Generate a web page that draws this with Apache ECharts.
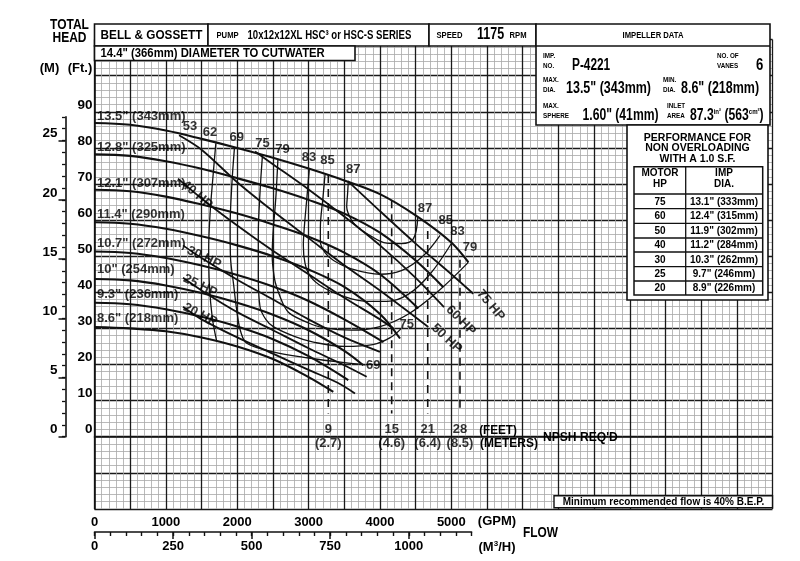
<!DOCTYPE html>
<html><head><meta charset="utf-8">
<script src="https://cdn.jsdelivr.net/npm/echarts@6/dist/echarts.min.js"></script>
<style>html,body{margin:0;padding:0;background:#fff}#c{width:800px;height:561px}</style>
</head><body><div id="c"></div><script>
// ---------- DATA (flow in GPM, head in feet) ----------
const gpmLabels = [0,1000,2000,3000,4000,5000];
const m3hLabels = [0,250,500,750,1000];
const ftLabels = [0,10,20,30,40,50,60,70,80,90];
const mLabels = [0,5,10,15,20,25];

const diaNames = ['13.5" (343mm)','12.8" (325mm)','12.1" (307mm)','11.4" (290mm)','10.7" (272mm)','10" (254mm)','9.3" (236mm)','8.6" (218mm)'];
const head135 = [[0,86.9],[500,86.4],[1000,84.8],[1500,82.5],[2000,80],[2500,77.3],[3000,74.3],[3500,71],[4000,67.2],[4500,61.3],[5000,53.8],[5238,48.3]];
const head128 = [[0,78.2],[500,77.8],[1000,76.3],[1500,74.2],[2000,71.6],[2500,68.8],[3000,65.6],[3500,61.8],[4000,56.5],[4500,48.8],[4888,41.4]];
const head121 = [[0,68.4],[500,68],[1000,66.5],[1500,64.3],[2000,61.8],[2500,58.8],[3000,55.4],[3500,51],[4000,45],[4537,35.5]];
const head114 = [[0,59.4],[500,59],[1000,57.6],[1500,55.5],[2000,53],[2500,50],[3000,46.3],[3500,41.5],[4000,34],[4281,27.2]];
const head107 = [[0,51.3],[500,50.9],[1000,49.5],[1500,47.4],[2000,44.8],[2500,41.6],[3000,37.6],[3500,32.5],[4050,26.2]];
const head100 = [[0,43.7],[500,43.3],[1000,41.9],[1500,39.8],[2000,37.1],[2500,33.8],[3000,29.5],[3500,23.8],[3766,19.8]];
const head093 = [[0,37.1],[500,36.7],[1000,35.3],[1500,33.2],[2000,30.5],[2500,27],[3000,22.3],[3556,15.7]];
const head086 = [[0,30.4],[500,30],[1000,29.2],[1500,27.5],[2000,25],[2500,21.5],[3000,16.5],[3346,12.4]];

const hp75 = [[3550,70.8],[4000,62.5],[4500,53.5],[5000,45],[5308,39.6]];
const hp60 = [[2250,79],[2500,75.5],[3000,68.5],[3500,61],[4000,53],[4500,44],[4897,35.9]];
const hp50 = [[1185,83.5],[1500,79.5],[2000,70.5],[2500,62.5],[3000,55],[3500,47.5],[4000,40.5],[4677,30.4]];
const hp40 = [[1170,71.5],[1500,66],[2000,58.5],[2500,51.5],[3000,45],[3500,38.5],[4000,32.5],[4200,29.8]];
const hp30 = [[1240,53],[1500,49.5],[2000,43.5],[2500,38],[3000,32.5],[3500,27.5],[3999,23.5]];
const hp25 = [[1240,44],[1500,40.5],[2000,34.5],[2500,29.5],[3000,24.5],[3500,19.8],[3814,16.6]];
const hp20 = [[1240,36],[1500,32.5],[2000,27.5],[2500,23],[3000,18.5],[3400,15],[3650,12]];

const eff62 = [[1700,81.3],[1660,72],[1620,62],[1600,52],[1610,42],[1650,33],[1712,26.5]];
const eff69 = [[1960,79.8],[1925,70],[1900,58],[1905,50],[1950,42],[2000,34],[2050,29],[2133,25.9],[2500,23.5],[3000,21.8],[3500,20.5],[3800,19.9]];
const eff75 = [[2354,78.1],[2320,68],[2295,56],[2295,45],[2319,36],[2400,32.5],[2505,30.5],[2800,27.8],[3066,26.2],[3500,25],[3900,25.5],[4150,27.5],[4300,30]];
const eff79 = [[2570,76.8],[2540,66],[2500,56],[2490,50],[2520,44],[2553,41.4],[2650,36.5],[2739,34.1],[3000,31.5],[3206,30.2],[3600,29.5],[4000,30.5],[4400,34],[4800,40],[5238,48.3]];
const eff83 = [[3010,74.2],[2975,66],[2940,58],[2926,53],[2950,48],[3020,44.5],[3202,41.4],[3500,38.8],[3800,37.5],[4100,37.5],[4400,39.5],[4700,45],[5009,53.8]];
const eff85 = [[3230,72.6],[3200,66],[3165,58],[3165,54],[3230,51],[3350,48.8],[3600,46.5],[4000,45],[4300,46],[4600,50],[4842,55.8]];
const eff87 = [[3556,70.6],[3545,67],[3534,63.7],[3600,60],[3700,57.8],[3814,56.3],[4094,53.6],[4300,53.5],[4467,54.8],[4530,60.8]];

const npshGpm = [3276,4164,4669,5121];
const npshTopFt = [72.5,65.5,57,49];
const npshBottomFt = 6.4;
const npshFeet = [9,15,21,28];
const npshMeters = [2.7,4.6,6.4,8.5];

const effLabelPts = [[1338,86.0,'53'],[1618,84.3,'62'],[1992,82.9,'69'],[2354,81.3,'75'],[2634,79.7,'79'],[3005,77.3,'83'],[3265,76.4,'85'],[3627,74.1,'87'],[4631,63.1,'87'],[4922,59.8,'85'],[5086,56.9,'83'],[5261,52.4,'79'],[4374,31.1,'75'],[3907,19.8,'69']];
const hpLabelPts = [[1436,67,'40 HP'],[1535,49.6,'30 HP'],[1481,41.8,'25 HP'],[1481,33.8,'20 HP'],[5553,36.4,'75 HP'],[5133,32.2,'60 HP'],[4935,27.2,'50 HP']];
const diaLabelPts = [[35,88.6],[35,80],[35,70.2],[35,61.5],[35,53.6],[35,46.3],[35,39.4],[35,32.8]];

const perfHp = [75,60,50,40,30,25,20];
const perfDia = ['13.1" (333mm)','12.4" (315mm)','11.9" (302mm)','11.2" (284mm)','10.3" (262mm)','9.7" (246mm)','8.9" (226mm)'];

// ---------- STYLE ----------
const FN = '"Liberation Sans",Arial,Helvetica,sans-serif';
const hpAngles = [-41,-26,-26,-27,-50,-45,-43];
const INK = '#111';

const chart = echarts.init(document.getElementById('c'), null, {renderer:'canvas'});

const series = [];
[head135,head128,head121,head114,head107,head100,head093,head086].forEach(d=>series.push({type:'line',data:d,smooth:0.35,symbol:'none',silent:true,z:4,lineStyle:{color:INK,width:2.1}}));
[hp75,hp60,hp50,hp40,hp30,hp25,hp20].forEach(d=>series.push({type:'line',data:d,smooth:0.3,symbol:'none',silent:true,z:3,lineStyle:{color:INK,width:1.8}}));
[eff62,eff69,eff75,eff79,eff83,eff85,eff87].forEach(d=>series.push({type:'line',data:d,smooth:0.35,symbol:'none',silent:true,z:3,lineStyle:{color:INK,width:1.3}}));
npshGpm.forEach((g,i)=>series.push({type:'line',data:[[g,npshTopFt[i]],[g,npshBottomFt]],symbol:'none',silent:true,z:3,lineStyle:{color:INK,width:1.6,type:[8,6]}}));

const lab = (size,extra)=>Object.assign({show:true,position:'inside',color:'#000',fontSize:size,fontWeight:'bold',fontFamily:FN},extra||{});
series.push({type:'scatter',symbolSize:0,silent:true,z:6,data:effLabelPts.map(p=>({value:[p[0],p[1]],name:p[2]})),label:lab(13,{formatter:p=>p.name})});
series.push({type:'scatter',symbolSize:0,silent:true,z:6,data:hpLabelPts.map((p,i)=>({value:[p[0],p[1]],name:p[2],label:{rotate:hpAngles[i]}})),label:lab(13,{formatter:p=>p.name})});
series.push({type:'scatter',symbolSize:0,silent:true,z:6,data:diaLabelPts.map((p,i)=>({value:p,name:diaNames[i]})),label:lab(13,{formatter:p=>p.name,align:'left'})});
series.push({type:'scatter',symbolSize:0,silent:true,z:6,data:npshGpm.map((g,i)=>({value:[g,1.9],name:String(npshFeet[i])})),label:lab(13,{formatter:p=>p.name})});
series.push({type:'scatter',symbolSize:0,silent:true,z:6,data:npshGpm.map((g,i)=>({value:[g,-1.9],name:'('+npshMeters[i].toFixed(1)+')'})),label:lab(13,{formatter:p=>p.name})});

// ---------- GRAPHIC (boxes / text) ----------
const G = [];
function rect(x,y,w,h,lw){G.push({type:'rect',z:100,shape:{x:x,y:y,width:w,height:h},style:{fill:'#fff',stroke:INK,lineWidth:lw||1.6}});}
function line(x1,y1,x2,y2,lw){G.push({type:'line',z:101,shape:{x1:x1,y1:y1,x2:x2,y2:y2},style:{stroke:INK,lineWidth:lw||1.3}});}
function txt(x,y,t,size,align,sx,rich){G.push({type:'text',z:102,x:x,y:y,scaleX:sx||1,scaleY:1,style:{text:t,font:'bold '+size+'px '+FN,fill:'#000',align:align||'left',textAlign:align||'left',verticalAlign:'middle',textVerticalAlign:'middle',rich:rich}});}
const small = {s:{fontSize:8,fontWeight:'bold',fontFamily:FN,verticalAlign:'top',padding:[0,0,6,0]}};

txt(69.5,24.5,'TOTAL',15,'center',0.8);
txt(69.5,37.5,'HEAD',15,'center',0.8);
txt(49.5,68,'(M)',13,'center');
txt(80,68,'(Ft.)',13,'center');

rect(94.5,24,113.5,22); rect(208,24,221,22); rect(429,24,107,22);
rect(536,24,234,101); line(536,46,770,46,1.6);
rect(94.5,46,260.5,14.5);
txt(151.5,35.5,'BELL & GOSSETT',13.5,'center',0.87);
txt(216.5,36,'PUMP',9,'left',0.85);
txt(247.5,35.5,'10x12x12XL HSC³ or HSC-S SERIES',12,'left',0.8);
txt(436.5,36,'SPEED',9,'left',0.85);
txt(477,35,'1175',16,'left',0.78);
txt(509.5,36,'RPM',9,'left',0.85);
txt(653,35.5,'IMPELLER DATA',9,'center',0.85);
txt(100.5,53.5,'14.4" (366mm) DIAMETER TO CUTWATER',13,'left',0.87);

txt(543,56,'IMP.',7,'left',0.9); txt(543,66.5,'NO.',7,'left',0.9);
txt(572,66,'P-4221',16,'left',0.74);
txt(717,56,'NO. OF',7,'left',0.9); txt(717,66.5,'VANES',7,'left',0.9);
txt(756,66,'6',16,'left',0.82);
txt(543,80.5,'MAX.',7,'left',0.9); txt(543,90,'DIA.',7,'left',0.9);
txt(566,89,'13.5" (343mm)',16,'left',0.78);
txt(663,80.5,'MIN.',7,'left',0.9); txt(663,90,'DIA.',7,'left',0.9);
txt(681,89,'8.6" (218mm)',16,'left',0.78);
txt(543,106,'MAX.',7,'left',0.9); txt(543,116.5,'SPHERE',7,'left',0.9);
txt(582.5,115.5,'1.60" (41mm)',16,'left',0.76);
txt(667,106,'INLET',7,'left',0.9); txt(667,116.5,'AREA',7,'left',0.9);
txt(690,115.5,'87.3{s|in²} (563{s|cm²})',16,'left',0.76,small);

rect(627,125,141,175);
txt(697.5,138,'PERFORMANCE FOR',10.5,'center');
txt(697.5,148.5,'NON OVERLOADING',10.5,'center');
txt(697.5,159,'WITH A 1.0 S.F.',10.5,'center');
rect(634,166.7,128.7,128.3,1.5);
line(685.7,166.7,685.7,295,1.3);
const rowY=[194,208.7,223.3,238,252,266.7,281,295];
rowY.slice(0,7).forEach(y=>line(634,y,762.7,y,1.3));
txt(660,173.5,'MOTOR',10,'center'); txt(660,184,'HP',10,'center');
txt(724,173.5,'IMP',10,'center'); txt(724,184,'DIA.',10,'center');
perfHp.forEach((h,i)=>{const cy=(rowY[i]+rowY[i+1])/2; txt(660,cy+0.5,String(h),10,'center'); txt(724,cy+0.5,perfDia[i],10,'center');});

rect(554,495.7,218.5,12,1.4);
txt(663.5,502,'Minimum recommended flow is 40% B.E.P.',10.5,'center',0.95);

txt(498,430,'(FEET)',13,'center',0.9);
txt(509,443.5,'(METERS)',13,'center',0.92);
txt(543,437,"NPSH REQ'D",13,'left',0.93);

txt(497,521.5,'(GPM)',13,'center');
txt(540.5,533,'FLOW',14,'center',0.85);
txt(497,547,'(M{s|3}/H)',13,'center',1,small);

// ---------- AXES ----------
const bold = {color:'#000',fontWeight:'bold',fontSize:13,fontFamily:FN};
const option = {
  animation:false,
  backgroundColor:'#fff',
  grid:[
    {left:94.5,top:39.6,width:678,height:469.3},
    {left:65.5,top:116.9,width:1,height:319.8},
    {left:65.5,top:140.6,width:1,height:296.1},
    {left:94.5,top:531,width:377.1,height:1},
    {left:94.5,top:531,width:314.2,height:1}
  ],
  xAxis:[
    {type:'value',gridIndex:0,min:0,max:9500,interval:500,
      axisLine:{show:true,lineStyle:{color:INK,width:1.6}},axisTick:{show:false},
      axisLabel:Object.assign({interval:0,margin:7,formatter:v=>gpmLabels.indexOf(v)>=0?String(v):''},bold),
      splitLine:{show:true,lineStyle:{color:'#1a1a1a',width:1.3}},
      minorTick:{show:false,splitNumber:5},minorSplitLine:{show:true,lineStyle:{color:'#a8a8a8',width:0.8}}},
    {type:'value',gridIndex:1,show:false,min:0,max:1},
    {type:'value',gridIndex:2,show:false,min:0,max:1},
    {type:'value',gridIndex:3,min:0,max:1200,interval:50,
      axisLine:{show:true,lineStyle:{color:INK,width:1.5}},axisTick:{show:true,length:4,lineStyle:{color:INK,width:1.4}},
      axisLabel:{show:false},splitLine:{show:false}},
    {type:'value',gridIndex:4,min:0,max:1000,interval:250,
      axisLine:{show:false},axisTick:{show:true,length:7,lineStyle:{color:INK,width:1.5}},
      axisLabel:Object.assign({margin:8,formatter:v=>m3hLabels.indexOf(v)>=0?String(v):''},bold),splitLine:{show:false}}
  ],
  yAxis:[
    {type:'value',gridIndex:0,min:-20,max:110,interval:10,
      axisLine:{show:true,lineStyle:{color:INK,width:1.6}},axisTick:{show:false},
      axisLabel:Object.assign({margin:2,verticalAlign:'bottom',formatter:v=>ftLabels.indexOf(v)>=0?String(v):''},bold,{fontSize:13.5}),
      splitLine:{show:true,lineStyle:{color:'#1a1a1a',width:1.3}},
      minorTick:{show:false,splitNumber:5},minorSplitLine:{show:true,lineStyle:{color:'#a8a8a8',width:0.8}}},
    {type:'value',gridIndex:1,min:0,max:27,interval:1,
      axisLine:{show:true,lineStyle:{color:INK,width:1.6}},axisTick:{show:true,length:3.5,lineStyle:{color:INK,width:1.3}},
      axisLabel:{show:false},splitLine:{show:false}},
    {type:'value',gridIndex:2,min:0,max:25,interval:5,
      axisLine:{show:false},axisTick:{show:true,length:7,lineStyle:{color:INK,width:1.5}},
      axisLabel:Object.assign({margin:8,verticalAlign:'bottom',formatter:v=>mLabels.indexOf(v)>=0?String(v):''},bold,{fontSize:13.5}),splitLine:{show:false}},
    {type:'value',gridIndex:3,show:false,min:0,max:1},
    {type:'value',gridIndex:4,show:false,min:0,max:1}
  ],
  graphic:G,
  series:series
};
chart.setOption(option);
</script></body></html>
